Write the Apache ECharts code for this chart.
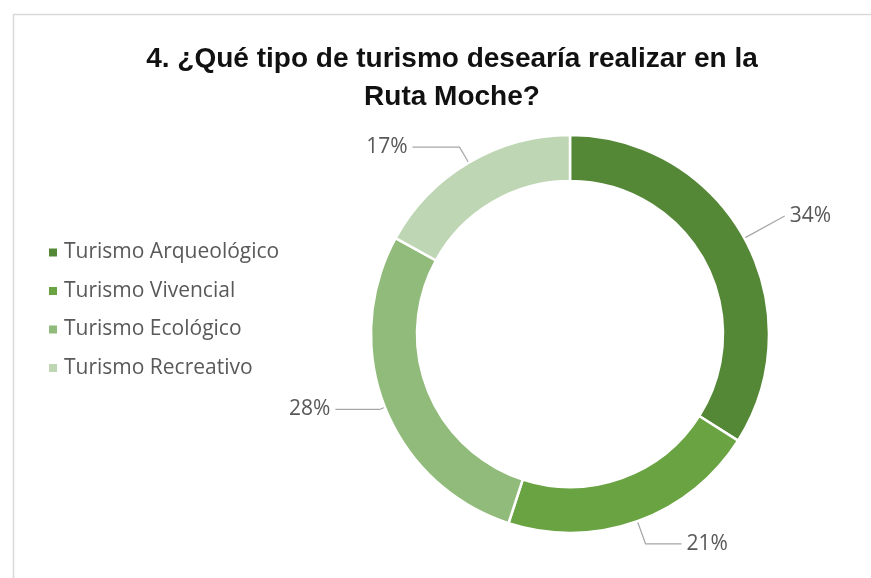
<!DOCTYPE html>
<html>
<head>
<meta charset="utf-8">
<script src="https://cdn.jsdelivr.net/npm/echarts@6/dist/echarts.min.js"></script>
<style>
html,body{margin:0;padding:0;background:#fff;}
#c{width:871px;height:578px;}
</style>
</head>
<body>
<div id="c"></div>
<script>
var categories = ['Turismo Arqueológico', 'Turismo Vivencial', 'Turismo Ecológico', 'Turismo Recreativo'];
var values = [34, 21, 28, 17];
var colors = ['#548837', '#6aa342', '#91bb7a', '#bed6b3'];
var titleText = '4. ¿Qué tipo de turismo desearía realizar en la\nRuta Moche?';
var labelLineLengths = [[46, 0], [24, 36], [6, 44], [18, 47]];

var chart = echarts.init(document.getElementById('c'));
var font = '"Liberation Sans", Arial, sans-serif';
var font2 = '"Open Sans", "Liberation Sans", sans-serif';
chart.setOption({
  animation: false,
  color: colors,
  graphic: [{
    type: 'rect',
    left: 11, top: 12,
    shape: { width: 900, height: 600 },
    style: { fill: 'none', stroke: '#d9d9d9', lineWidth: 1.5 },
    silent: true
  }],
  title: {
    text: titleText,
    left: 447,
    textAlign: 'center',
    top: 35,
    textStyle: { fontFamily: font, fontSize: 28, fontWeight: 'bold', color: '#111', lineHeight: 38 }
  },
  legend: {
    orient: 'vertical',
    left: 44,
    top: 237,
    icon: 'rect',
    itemWidth: 8,
    itemHeight: 8,
    itemGap: 17.5,
    itemStyle: { borderWidth: 0 },
    data: categories,
    textStyle: { fontFamily: font2, fontSize: 21, color: '#595959', lineHeight: 20, padding: [0, 0, 0, 2] }
  },
  series: [{
    type: 'pie',
    center: [570, 334],
    radius: [153, 199],
    startAngle: 90,
    clockwise: true,
    data: categories.map(function (c, i) {
      return {
        name: c, value: values[i],
        labelLine: { length: labelLineLengths[i][0], length2: labelLineLengths[i][1] }
      };
    }),
    itemStyle: { borderColor: '#fff', borderWidth: 2.5 },
    label: {
      show: true,
      formatter: '{d}%',
      fontFamily: font2,
      fontSize: 21,
      color: '#595959'
    },
    labelLine: {
      show: true,
      lineStyle: { color: '#a6a6a6', width: 1.2 }
    }
  }]
});
</script>
</body>
</html>
